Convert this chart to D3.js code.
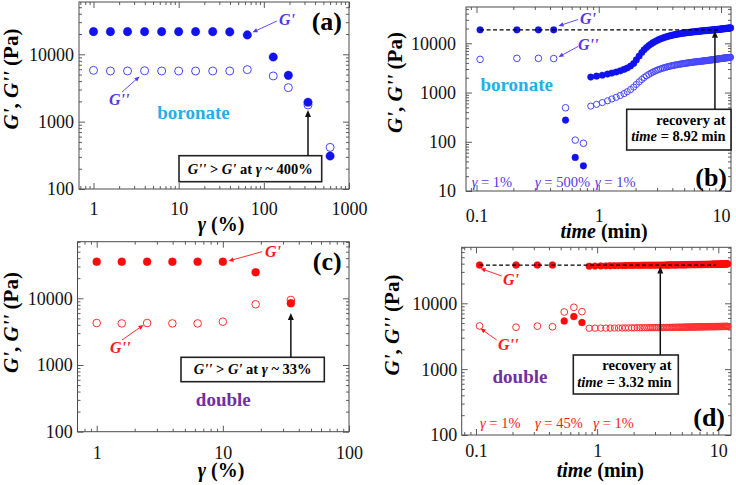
<!DOCTYPE html>
<html><head><meta charset="utf-8">
<script src="https://cdn.jsdelivr.net/npm/d3@7"></script>
<style>
html,body{margin:0;padding:0;background:#fff;}
svg{display:block;}
</style></head><body>
<svg id="chart" width="736" height="485"></svg>
<script>
// ---------------- DATA ----------------
// (a) boronate strain sweep
const strainA = [1, 1.58, 2.51, 3.98, 6.31, 10, 15.8, 25.1, 39.8, 64, 129, 194, 330, 600];
const gPrimeA = [21700, 21700, 21700, 21700, 21700, 21700, 21700, 21700, 21500, 19400, 9100, 4870, 1940, 309];
const gDoublePrimeA = [5780, 5650, 5650, 5700, 5650, 5650, 5650, 5650, 5650, 5920, 4770, 3200, 1770, 415];

// (c) double strain sweep
const strainC = [1, 1.58, 2.51, 3.98, 6.31, 10, 18.2, 34.6];
const gPrimeC = [35400, 35400, 35400, 35400, 35400, 35400, 24500, 8410];
const gDoublePrimeC = [4260, 4200, 4260, 4200, 4200, 4460, 8130, 9440];

// (b),(d) step-strain: first 4 at gamma = 1 %, next 3 at high strain
const stepTimes = [0.107, 0.214, 0.321, 0.428, 0.535, 0.642, 0.749];
const gPrimeStepB = [18800, 18800, 18800, 18800, 276, 48, 32.5];
const gDoublePrimeStepB = [4720, 4950, 4950, 4900, 490, 108, 93];
const gPrimeStepD = [38000, 38000, 38000, 38000, 5390, 6280, 5090];
const gDoublePrimeStepD = [4530, 4330, 4500, 4400, 7380, 8690, 7470];

// recovery at gamma = 1 %
const recoveryTimes = [
  0.86, 0.96, 1.07, 1.18, 1.28, 1.39, 1.50, 1.61, 1.71, 1.82,
  1.93, 2.03, 2.14, 2.25, 2.35, 2.46, 2.57, 2.68, 2.78, 2.89,
  3.00, 3.10, 3.21, 3.32, 3.42, 3.53, 3.64, 3.75, 3.85, 3.96,
  4.07, 4.17, 4.28, 4.39, 4.49, 4.60, 4.71, 4.82, 4.92, 5.03,
  5.14, 5.24, 5.35, 5.46, 5.56, 5.67, 5.78, 5.89, 5.99, 6.10,
  6.21, 6.31, 6.42, 6.53, 6.63, 6.74, 6.85, 6.96, 7.06, 7.17,
  7.28, 7.38, 7.49, 7.60, 7.70, 7.81, 7.92, 8.03, 8.13, 8.24,
  8.35, 8.45, 8.56, 8.67, 8.77, 8.88, 8.99, 9.10, 9.20, 9.31,
  9.42, 9.52, 9.63, 9.74, 9.84, 9.95, 10.06, 10.17, 10.27, 10.38,
  10.49, 10.59, 10.70, 10.81, 10.91, 11.02, 11.13, 11.24, 11.34, 11.45,
  11.56, 11.66, 11.77, 11.88, 11.98];
const gPrimeRecB = [
  2060, 2150, 2250, 2370, 2480, 2620, 2760, 2950, 3150, 3450,
  3900, 4600, 5500, 6500, 7400, 8200, 9000, 9700, 10300, 10900,
  11400, 11900, 12300, 12700, 13050, 13400, 13700, 14000, 14250, 14500,
  14750, 14950, 15150, 15330, 15500, 15650, 15800, 15950, 16080, 16200,
  16320, 16430, 16540, 16640, 16740, 16840, 16930, 17020, 17110, 17200,
  17280, 17360, 17440, 17520, 17600, 17670, 17740, 17810, 17880, 17950,
  18010, 18070, 18130, 18190, 18250, 18310, 18370, 18420, 18470, 18520,
  18570, 18620, 18670, 18720, 18770, 18830, 18890, 18950, 19010, 19070,
  19130, 19190, 19250, 19310, 19370, 19430, 19490, 19550, 19610, 19670,
  19730, 19790, 19850, 19910, 19970, 20030, 20090, 20150, 20210, 20270,
  20330, 20390, 20450, 20510, 20570];
const gDoublePrimeRecB = [
  530, 575, 625, 680, 740, 800, 870, 950, 1040, 1150,
  1290, 1460, 1650, 1840, 2020, 2190, 2340, 2480, 2610, 2730,
  2840, 2940, 3030, 3110, 3190, 3260, 3330, 3390, 3450, 3500,
  3550, 3600, 3640, 3680, 3720, 3760, 3800, 3840, 3870, 3900,
  3930, 3960, 3990, 4020, 4050, 4080, 4110, 4140, 4160, 4180,
  4200, 4220, 4240, 4260, 4280, 4300, 4320, 4340, 4360, 4380,
  4400, 4420, 4440, 4460, 4480, 4500, 4520, 4540, 4560, 4580,
  4600, 4620, 4640, 4660, 4680, 4700, 4720, 4740, 4760, 4780,
  4800, 4820, 4840, 4860, 4880, 4900, 4920, 4940, 4960, 4980,
  5000, 5010, 5020, 5030, 5040, 5060, 5080, 5100, 5120, 5130,
  5140, 5150, 5160, 5170, 5190];
const gPrimeRecD = [
  36600, 36800, 36950, 37100, 37200, 37300, 37380, 37450, 37520, 37580,
  37630, 37680, 37720, 37760, 37800, 37840, 37870, 37900, 37930, 37960,
  37980, 38000, 38010, 38030, 38060, 38090, 38110, 38140, 38160, 38190,
  38210, 38240, 38260, 38290, 38310, 38330, 38360, 38380, 38400, 38430,
  38450, 38470, 38490, 38520, 38540, 38560, 38580, 38600, 38620, 38640,
  38660, 38680, 38700, 38720, 38740, 38760, 38780, 38800, 38820, 38840,
  38860, 38880, 38900, 38920, 38940, 38960, 38980, 39000, 39020, 39040,
  39060, 39080, 39100, 39120, 39140, 39160, 39180, 39200, 39220, 39240,
  39260, 39280, 39300, 39320, 39340, 39360, 39380, 39400, 39420, 39440,
  39460, 39480, 39500, 39520, 39540, 39560, 39580, 39600, 39620, 39640,
  39660, 39680, 39700, 39720, 39740];
const gDoublePrimeRecD = [
  4180, 4190, 4200, 4200, 4210, 4210, 4220, 4220, 4230, 4230,
  4240, 4240, 4250, 4250, 4250, 4260, 4260, 4260, 4270, 4270,
  4270, 4280, 4280, 4280, 4290, 4290, 4290, 4300, 4300, 4300,
  4310, 4310, 4310, 4320, 4320, 4320, 4330, 4330, 4330, 4340,
  4340, 4340, 4350, 4350, 4350, 4350, 4360, 4360, 4360, 4370,
  4370, 4370, 4370, 4380, 4380, 4380, 4380, 4390, 4390, 4390,
  4390, 4400, 4400, 4400, 4400, 4400, 4410, 4410, 4410, 4410,
  4410, 4420, 4420, 4420, 4420, 4420, 4420, 4430, 4430, 4430,
  4430, 4430, 4430, 4430, 4440, 4440, 4440, 4440, 4440, 4440,
  4440, 4440, 4450, 4450, 4450, 4450, 4450, 4450, 4450, 4450,
  4450, 4450, 4450, 4450, 4460];

// reference (initial G') guide lines and recovery times
const guideTimesB = [0.107, 9.7];
const guideLevelB = 18800;
const recoveryTimeB = 8.92;
const guideTimesD = [0.107, 9.5];
const guideLevelD = 38000;
const recoveryTimeD = 3.32;

// tick labels
const xTicksA = [1, 10, 100, 1000];
const xTicksC = [1, 10, 100];
const xTicksTime = [0.1, 1, 10];
const yTicksA = [100, 1000, 10000];
const yTicksB = [10, 100, 1000, 10000];

// ---------------- DRAWING ----------------
const FONT = '"Liberation Serif","Times New Roman",Times,serif';
const AXIS = '#4a4a4a';
const BLUE = '#1212ee', BLUE_OPEN = '#4646ff', ANN_BLUE = '#5638e6';
const RED = '#ff0a0a', RED_OPEN = '#ff3030', ANN_RED = '#ff1a1a';
const SKY = '#27aee6', PURPLE = '#7030a0';
const svg = d3.select('#chart');

function logTicks(lo, hi) {
  const out = [];
  for (let k = Math.floor(Math.log10(lo)) - 1; k <= Math.ceil(Math.log10(hi)); k++) {
    for (let m = 1; m <= 9; m++) {
      const v = m * Math.pow(10, k);
      if (v >= lo * 0.9999 && v <= hi * 1.0001) out.push({ v, major: m === 1 });
    }
  }
  return out;
}

function rich(g, x, y, parts, o) {
  const t = g.append('text').attr('x', x).attr('y', y)
    .attr('font-family', FONT).attr('font-size', o.size)
    .attr('font-weight', o.weight || 'normal').attr('fill', o.color || '#000')
    .attr('text-anchor', o.anchor || 'start');
  if (o.rotate) t.attr('transform', `rotate(-90,${x},${y})`);
  parts.forEach(p => t.append('tspan').attr('font-style', p[1] ? 'italic' : 'normal').text(p[0]));
  return t;
}

function arrow(g, x1, y1, x2, y2, color, w, hl, hw) {
  const a = Math.atan2(y2 - y1, x2 - x1);
  const bx = x2 - hl * Math.cos(a), by = y2 - hl * Math.sin(a);
  g.append('line').attr('x1', x1).attr('y1', y1).attr('x2', bx + 0.5 * Math.cos(a)).attr('y2', by + 0.5 * Math.sin(a))
    .attr('stroke', color).attr('stroke-width', w);
  const px = -Math.sin(a) * hw, py = Math.cos(a) * hw;
  g.append('path').attr('d', `M${x2},${y2}L${bx + px},${by + py}L${bx - px},${by - py}Z`).attr('fill', color);
}

function panel(p) {
  const g = svg.append('g');
  const x = d3.scaleLog().domain(p.xDomain).range(p.xRange);
  const y = d3.scaleLog().domain(p.yDomain).range(p.yRange);
  const F = p.frame;
  const tx = logTicks(x.invert(F.l), x.invert(F.r));
  const ty = logTicks(y.invert(F.b), y.invert(F.t));
  const majX = tx.filter(d => d.major).map(d => d.v), minX = tx.filter(d => !d.major).map(d => d.v);
  const majY = ty.filter(d => d.major).map(d => d.v), minY = ty.filter(d => !d.major).map(d => d.v);

  const tickAxis = (fn, scale, vals, size, tr) => g.append('g').attr('transform', tr)
    .call(fn(scale).tickValues(vals).tickSize(size).tickFormat(''))
    .call(s => s.select('.domain').remove())
    .call(s => s.selectAll('line').attr('stroke', AXIS).attr('stroke-width', 0.9));
  tickAxis(d3.axisBottom, x, majX, -6, `translate(0,${F.b})`);
  tickAxis(d3.axisBottom, x, minX, -3, `translate(0,${F.b})`);
  tickAxis(d3.axisTop, x, majX, -6, `translate(0,${F.t})`);
  tickAxis(d3.axisTop, x, minX, -3, `translate(0,${F.t})`);
  tickAxis(d3.axisLeft, y, majY, -6, `translate(${F.l},0)`);
  tickAxis(d3.axisLeft, y, minY, -3, `translate(${F.l},0)`);
  tickAxis(d3.axisRight, y, majY, -6, `translate(${F.r},0)`);
  tickAxis(d3.axisRight, y, minY, -3, `translate(${F.r},0)`);

  g.append('rect').attr('x', F.l).attr('y', F.t).attr('width', F.r - F.l).attr('height', F.b - F.t)
    .attr('fill', 'none').attr('stroke', AXIS).attr('stroke-width', 1);

  // tick labels
  g.append('g').attr('transform', `translate(0,${p.xLabelY})`)
    .call(d3.axisBottom(x).tickValues(p.xTicks).tickSize(0).tickFormat(d3.format('~g')))
    .call(s => s.select('.domain').remove())
    .attr('font-family', FONT).attr('font-size', 18)
    .call(s => s.selectAll('text').attr('y', 0).attr('dy', 0).attr('fill', '#111'));
  g.append('g').attr('transform', `translate(${p.yLabelX},0)`)
    .call(d3.axisLeft(y).tickValues(p.yTicks).tickSize(0).tickFormat(d3.format('~g')))
    .call(s => s.select('.domain').remove())
    .attr('font-family', FONT).attr('font-size', 18)
    .call(s => s.selectAll('text').attr('x', 0).attr('dy', '0.33em').attr('fill', '#111'));

  // titles
  rich(g, p.yTitle[0], p.yTitle[1], [["G'", true], [', ', false], ["G''", true], [' (Pa)', false]],
    { size: 21, weight: 'bold', anchor: 'middle', rotate: true });
  rich(g, p.xTitle[0], p.xTitle[1], p.xTitleParts, { size: 20, weight: 'bold', anchor: 'middle' });
  rich(g, p.tag[0], p.tag[1], [[p.tagText, false]], { size: 26, weight: 'bold', anchor: 'end' });
  return { g, x, y };
}

function dots(g, xs, ys, x, y, r, filled, color) {
  g.append('g').selectAll('circle').data(d3.zip(xs, ys)).join('circle')
    .attr('cx', d => x(d[0])).attr('cy', d => y(d[1])).attr('r', r)
    .attr('fill', filled ? color : 'none').attr('stroke', color)
    .attr('stroke-width', filled ? 0.3 : 1);
}

function box(g, x0, y0, x1, y1) {
  g.append('rect').attr('x', x0).attr('y', y0).attr('width', x1 - x0).attr('height', y1 - y0)
    .attr('fill', '#fff').attr('stroke', '#222').attr('stroke-width', 1.6);
}

// ----- Panel (a)
{
  const { g, x, y } = panel({
    frame: { l: 79, r: 349, t: 2, b: 189 }, xDomain: [1, 1000], xRange: [93.5, 349],
    yDomain: [100, 10000], yRange: [189, 54.3], xTicks: xTicksA, yTicks: yTicksA,
    xLabelY: 215, yLabelX: 74, yTitle: [18, 79], xTitle: [221, 231],
    xTitleParts: [['γ', true], [' (%)', false]], tag: [342, 30], tagText: '(a)'
  });
  dots(g, strainA, gDoublePrimeA, x, y, 4, false, BLUE_OPEN);
  dots(g, strainA, gPrimeA, x, y, 4.3, true, BLUE);
  rich(g, 279, 25, [["G'", true]], { size: 16, weight: 'bold', color: ANN_BLUE });
  arrow(g, 277, 21, 252.5, 32.3, ANN_BLUE, 0.9, 5, 2.2);
  rich(g, 109, 105, [["G''", true]], { size: 16, weight: 'bold', color: ANN_BLUE });
  arrow(g, 122, 92, 139.5, 76.5, ANN_BLUE, 0.9, 5, 2.2);
  rich(g, 193.5, 119, [['boronate', false]], { size: 19, weight: 'bold', color: SKY, anchor: 'middle' });
  box(g, 179, 155.7, 321.7, 181.7);
  rich(g, 250.3, 174, [["G''", true], [' > ', false], ["G'", true], [' at ', false], ['γ', true], [' ~ 400%', false]],
    { size: 14.5, weight: 'bold', anchor: 'middle' });
  arrow(g, x(330), 155.7, x(330), 110, '#111', 1.5, 7, 3);
}

// ----- Panel (b)
{
  const { g, x, y } = panel({
    frame: { l: 466, r: 731, t: 7, b: 191 }, xDomain: [0.1, 10], xRange: [476.5, 721],
    yDomain: [10, 10000], yRange: [191, 43.3], xTicks: xTicksTime, yTicks: yTicksB,
    xLabelY: 222, yLabelX: 456, yTitle: [402, 82.5], xTitle: [604, 238],
    xTitleParts: [['time', true], [' (min)', false]], tag: [727, 186], tagText: '(b)'
  });
  dots(g, stepTimes, gDoublePrimeStepB, x, y, 3.3, false, BLUE_OPEN);
  dots(g, recoveryTimes, gDoublePrimeRecB, x, y, 3.1, false, BLUE_OPEN);
  dots(g, stepTimes, gPrimeStepB, x, y, 3.4, true, BLUE);
  dots(g, recoveryTimes, gPrimeRecB, x, y, 3.3, true, BLUE);
  g.append('path').datum(guideTimesB.map(t => [t, guideLevelB]))
    .attr('d', d3.line().x(d => x(d[0])).y(d => y(d[1])))
    .attr('stroke', '#000').attr('stroke-width', 1.2).attr('stroke-dasharray', '4,2.5').attr('fill', 'none');
  rich(g, 580, 24, [["G'", true]], { size: 16, weight: 'bold', color: ANN_BLUE });
  arrow(g, 578, 19.5, 558.5, 26, ANN_BLUE, 0.9, 5, 2.2);
  rich(g, 578, 50, [["G''", true]], { size: 16, weight: 'bold', color: ANN_BLUE });
  arrow(g, 578, 46.5, 558.5, 57, ANN_BLUE, 0.9, 5, 2.2);
  rich(g, 516.7, 90.7, [['boronate', false]], { size: 19, weight: 'bold', color: SKY, anchor: 'middle' });
  box(g, 626.7, 109.3, 731, 150);
  rich(g, 725.7, 124.5, [['recovery at', false]], { size: 14.5, weight: 'bold', anchor: 'end' });
  rich(g, 725.7, 141, [['time', true], [' = 8.92 min', false]], { size: 14.5, weight: 'bold', anchor: 'end' });
  arrow(g, x(recoveryTimeB), 109.3, x(recoveryTimeB), y(guideLevelB) + 1, '#111', 1.5, 7, 3);
  rich(g, 471.7, 187, [['γ', true], [' = 1%', false]], { size: 14.5, color: ANN_BLUE });
  rich(g, 535, 187, [['γ', true], [' = 500%', false]], { size: 14.5, color: ANN_BLUE });
  rich(g, 595, 187, [['γ', true], [' = 1%', false]], { size: 14.5, color: ANN_BLUE });
}

// ----- Panel (c)
{
  const { g, x, y } = panel({
    frame: { l: 77.5, r: 349, t: 241.7, b: 431.7 }, xDomain: [1, 100], xRange: [96.7, 349],
    yDomain: [100, 10000], yRange: [431.7, 298.3], xTicks: xTicksC, yTicks: yTicksA,
    xLabelY: 459, yLabelX: 72.7, yTitle: [18, 322.5], xTitle: [221, 477],
    xTitleParts: [['γ', true], [' (%)', false]], tag: [341.7, 270], tagText: '(c)'
  });
  dots(g, strainC, gDoublePrimeC, x, y, 3.8, false, RED_OPEN);
  dots(g, strainC, gPrimeC, x, y, 4, true, RED);
  rich(g, 265, 256.5, [["G'", true]], { size: 16, weight: 'bold', color: ANN_RED });
  arrow(g, 262, 251.7, 228.5, 261, ANN_RED, 0.9, 5, 2.2);
  rich(g, 110, 353, [["G''", true]], { size: 16, weight: 'bold', color: ANN_RED });
  arrow(g, 122, 340, 143.5, 325, ANN_RED, 0.9, 5, 2.2);
  rich(g, 223.3, 405.7, [['double', false]], { size: 19, weight: 'bold', color: PURPLE, anchor: 'middle' });
  box(g, 181, 357.3, 324.3, 381.7);
  rich(g, 252.7, 373.5, [["G''", true], [' > ', false], ["G'", true], [' at ', false], ['γ', true], [' ~ 33%', false]],
    { size: 14.5, weight: 'bold', anchor: 'middle' });
  arrow(g, x(34.6), 357.3, x(34.6), 313, '#111', 1.5, 7, 3);
}

// ----- Panel (d)
{
  const { g, x, y } = panel({
    frame: { l: 461.7, r: 731, t: 247.3, b: 435 }, xDomain: [0.1, 10], xRange: [476, 718.3],
    yDomain: [100, 10000], yRange: [435, 303.3], xTicks: xTicksTime, yTicks: yTicksA,
    xLabelY: 457, yLabelX: 457.3, yTitle: [399, 325], xTitle: [600.3, 477],
    xTitleParts: [['time', true], [' (min)', false]], tag: [725, 426], tagText: '(d)'
  });
  dots(g, stepTimes, gDoublePrimeStepD, x, y, 3.4, false, RED_OPEN);
  dots(g, recoveryTimes, gDoublePrimeRecD, x, y, 3.2, false, RED_OPEN);
  dots(g, stepTimes, gPrimeStepD, x, y, 3.5, true, RED);
  dots(g, recoveryTimes, gPrimeRecD, x, y, 3.4, true, RED);
  g.append('path').datum(guideTimesD.map(t => [t, guideLevelD]))
    .attr('d', d3.line().x(d => x(d[0])).y(d => y(d[1])))
    .attr('stroke', '#000').attr('stroke-width', 1.2).attr('stroke-dasharray', '4,2.5').attr('fill', 'none');
  rich(g, 503, 285, [["G'", true]], { size: 16, weight: 'bold', color: ANN_RED });
  arrow(g, 501.7, 276, 480.5, 268.5, ANN_RED, 0.9, 5, 2.2);
  rich(g, 498, 350, [["G''", true]], { size: 16, weight: 'bold', color: ANN_RED });
  arrow(g, 496.7, 340, 480.5, 328.5, ANN_RED, 0.9, 5, 2.2);
  rich(g, 520, 383.3, [['double', false]], { size: 19, weight: 'bold', color: PURPLE, anchor: 'middle' });
  box(g, 573.3, 355, 678.3, 394);
  rich(g, 671.7, 370, [['recovery at', false]], { size: 14.5, weight: 'bold', anchor: 'end' });
  rich(g, 671.7, 386.5, [['time', true], [' = 3.32 min', false]], { size: 14.5, weight: 'bold', anchor: 'end' });
  arrow(g, x(recoveryTimeD), 355, x(recoveryTimeD), y(guideLevelD) + 1.5, '#111', 1.5, 7, 3);
  rich(g, 480, 428, [['γ', true], [' = 1%', false]], { size: 14.5, color: ANN_RED });
  rich(g, 535, 428, [['γ', true], [' = 45%', false]], { size: 14.5, color: ANN_RED });
  rich(g, 593.3, 428, [['γ', true], [' = 1%', false]], { size: 14.5, color: ANN_RED });
}
</script>
</body></html>
